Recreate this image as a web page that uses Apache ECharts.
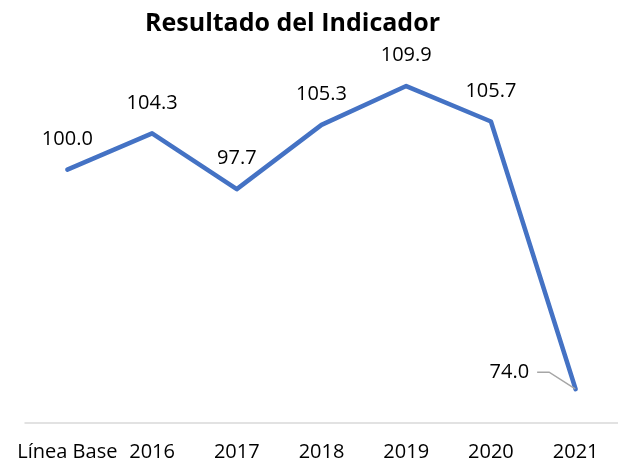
<!DOCTYPE html>
<html>
<head>
<meta charset="utf-8">
<script src="https://cdn.jsdelivr.net/npm/echarts@6/dist/echarts.min.js"></script>
<style>
  html, body { margin: 0; padding: 0; background: #fff; }
  #chart { width: 618px; height: 468px; }
</style>
</head>
<body>
<div id="chart"></div>
<script>
const categories = ['Línea Base', '2016', '2017', '2018', '2019', '2020', '2021']
const values = [100.0, 104.3, 97.7, 105.3, 109.9, 105.7, 74.0]

const font = '"Open Sans", "Noto Sans", sans-serif'
const last = values.length - 1

const seriesData = values.map((v, i) => {
  if (i === last) {
    // last point: label pulled to the left with a leader line, small gap after the text
    return {
      value: v,
      label: {
        position: 'left',
        distance: 4,
        formatter: p => p.value.toFixed(1) + '{g|}',
        rich: { g: { width: 8 } }
      },
      labelLine: { show: true, length2: 12, lineStyle: { color: '#a6a6a6', width: 1.5 } }
    }
  }
  return v
})

const chart = echarts.init(document.getElementById('chart'))
chart.setOption({
  animation: false,
  title: {
    text: 'Resultado del Indicador',
    left: 140,
    top: 6,
    textStyle: { fontFamily: font, fontWeight: 'bold', fontSize: 25, color: '#000' }
  },
  grid: { left: 25, right: -2, top: 43, bottom: 45 },
  xAxis: {
    type: 'category',
    data: categories,
    boundaryGap: true,
    axisLine: { lineStyle: { color: '#d9d9d9', width: 1.5 } },
    axisTick: { show: false },
    axisLabel: { fontFamily: font, fontSize: 20, color: '#000', margin: 19, interval: 0 }
  },
  yAxis: {
    type: 'value',
    min: 70,
    max: 115,
    show: false
  },
  series: [{
    type: 'line',
    data: seriesData,
    symbol: 'circle',
    symbolSize: 1,
    showSymbol: true,
    itemStyle: { color: 'rgba(0,0,0,0)' },
    lineStyle: { color: '#4472c4', width: 4.5, cap: 'round', join: 'round' },
    label: {
      show: true,
      position: 'top',
      distance: 20,
      fontFamily: font,
      fontSize: 20,
      color: '#000',
      formatter: p => p.value.toFixed(1)
    },
    labelLayout: p => (p.dataIndex === last ? { dx: -34, dy: -17 } : {})
  }]
})
</script>
</body>
</html>
